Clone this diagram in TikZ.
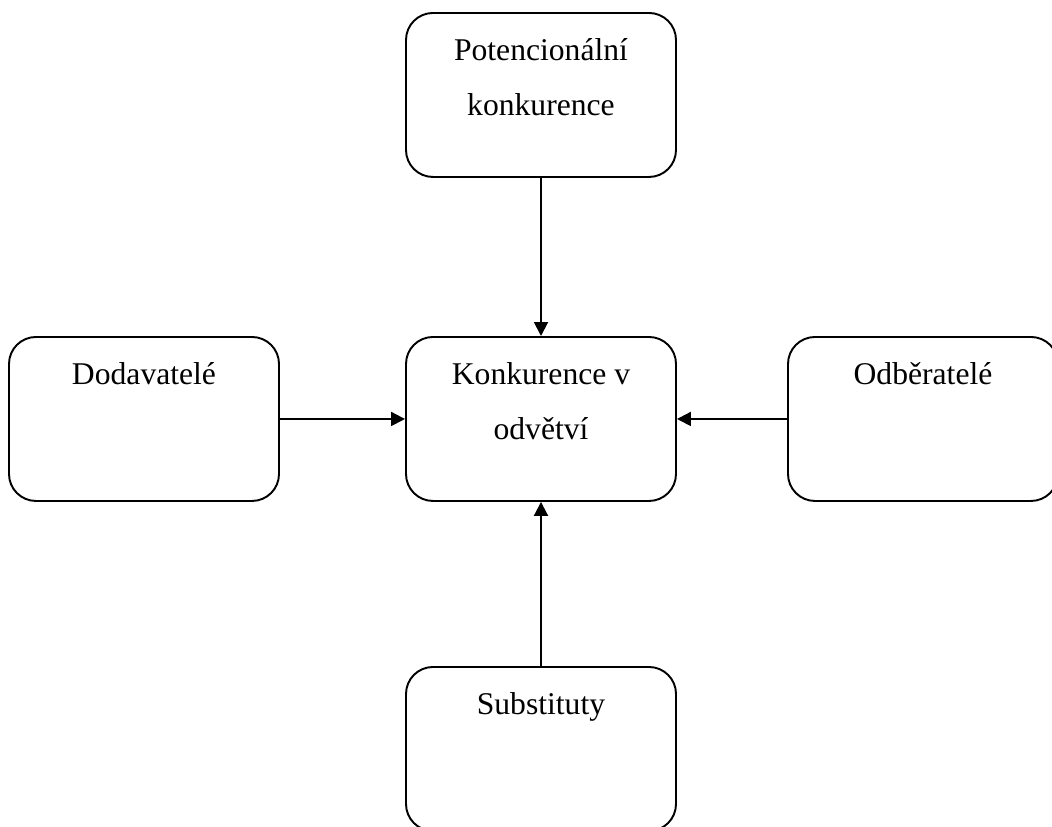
\documentclass[tikz,border=0pt]{standalone}
\usepackage{fontspec}
\setmainfont{Liberation Serif}
\usepackage{tikz}
\usetikzlibrary{arrows.meta,positioning}

\begin{document}
\begin{tikzpicture}[
    blok/.style={draw, line width=1.1pt, rounded corners=0.54cm, inner sep=0pt,
        anchor=north, text height=0.96cm, text depth=2.32cm, minimum width=5.4cm,
        font=\fontsize{18}{31}\selectfont},
    sipka/.style={line width=1.1pt, -{Triangle[length=0.28cm,width=0.28cm]}}]
	\useasboundingbox (0,0) rectangle (21.04,-16.54);

	\node[blok]	(k)	at (10.82, -6.72)	{\parbox[t]{5.4cm}{\centering Konkurence v\\odvětví}};
	\node[blok]	(p)	at (10.82, -0.24)	{\parbox[t]{5.4cm}{\centering Potencionální\\konkurence}};
	\node[blok]	(d)	at (2.88, -6.72)	{\parbox[t]{5.4cm}{\centering Dodavatelé}};
	\node[blok]	(o)	at (18.46, -6.72)	{\parbox[t]{5.4cm}{\centering Odběratelé}};
	\node[blok]	(s)	at (10.82, -13.32)	{\parbox[t]{5.4cm}{\centering Substituty}};

	\draw[sipka] (p) -- (k);
	\draw[sipka] (d) -- (k);
	\draw[sipka] (o) -- (k);
	\draw[sipka] (s) -- (k);
\end{tikzpicture}
\end{document}
